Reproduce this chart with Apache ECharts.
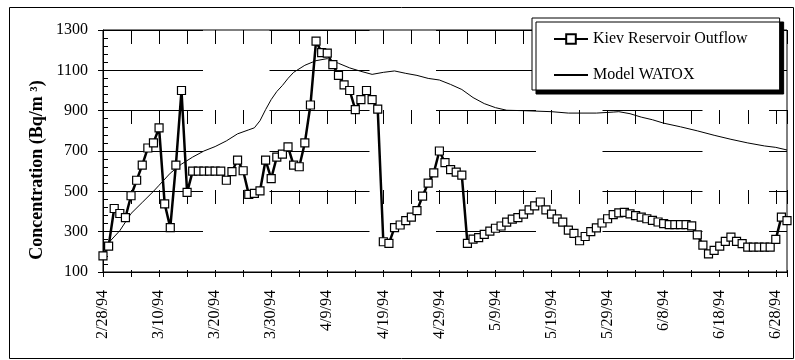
<!DOCTYPE html>
<html>
<head>
<meta charset="utf-8">
<script src="https://cdn.jsdelivr.net/npm/echarts@6/dist/echarts.min.js"></script>
<style>
html,body{margin:0;padding:0;background:#fff;}
#chart{width:795px;height:360px;}
</style>
</head>
<body>
<div id="chart"></div>
<script>
// Days counted from 2/28/94
var xTickLabels = ['2/28/94','3/10/94','3/20/94','3/30/94','4/9/94','4/19/94','4/29/94','5/9/94','5/19/94','5/29/94','6/8/94','6/18/94','6/28/94'];
var yTicks = [100, 300, 500, 700, 900, 1100, 1300];

// Kiev Reservoir Outflow, one value per day starting 2/28/94
var outflow = [
  180,228,415,390,370,478,555,630,715,740,
  815,438,320,630,1000,495,600,600,600,600,
  600,600,555,598,655,602,485,490,502,655,
  563,670,685,720,630,622,740,928,1245,1188,
  1185,1128,1075,1028,1000,905,955,1000,955,908,
  250,242,320,333,355,372,404,476,541,592,
  700,642,608,595,580,242,263,270,287,303,
  317,328,347,362,370,387,408,428,447,408,
  387,363,347,308,292,255,276,300,319,343,
  364,385,393,396,388,380,372,364,356,348,
  340,335,335,335,335,329,284,233,190,207,
  228,252,273,252,241,223,223,223,223,223,
  262,372,355
];

// Model WATOX: day offsets and values
var modelDays = [1,3,5,7,9,10,12,14,16,18,20,22,24,26,27,28,29,30,31,32,33,34,36,38,40,42,44,46,48,50,52,54,56,58,60,62,64,66,68,70,72,75,80,83,88,91,92,94,96,98,100,103,106,109,112,115,118,120,122];
var modelVals = [245,305,390,445,500,530,590,635,670,700,722,750,785,805,815,850,905,955,995,1025,1060,1090,1125,1148,1158,1135,1112,1095,1080,1090,1097,1085,1075,1060,1052,1030,1005,965,935,915,902,900,895,888,888,893,895,885,868,855,838,820,800,778,758,740,725,718,705];

var outflowData = outflow.map(function (v, i) { return [i, v]; });
var modelData = modelDays.map(function (d, i) { return [d, modelVals[i]]; });

var font = 'Liberation Serif, Times New Roman, serif';
var chart = echarts.init(document.getElementById('chart'), null, {renderer: 'canvas'});
chart.setOption({
  animation: false,
  backgroundColor: '#fff',
  grid: {left: 103, right: 8, top: 30, bottom: 88, show: true, borderColor: '#000', borderWidth: 1, backgroundColor: 'transparent'},
  graphic: [
    {type: 'rect', shape: {x: 9.5, y: 7.5, width: 784, height: 351}, style: {fill: 'none', stroke: '#000', lineWidth: 1}, silent: true},
    {type: 'text', x: 37, y: 170, rotation: Math.PI / 2,
     style: {text: 'Concentration (Bq/m ³)', font: 'bold 18px ' + font, fill: '#000', align: 'center', verticalAlign: 'middle'}}
  ],
  legend: {
    orient: 'vertical', left: 532, top: 18,
    padding: [13, 32, 7, 21],
    itemWidth: 34, itemHeight: 12, itemGap: 20,
    backgroundColor: '#fff', borderColor: '#000', borderWidth: 1,
    shadowColor: '#000', shadowBlur: 0, shadowOffsetX: 4, shadowOffsetY: 4,
    textStyle: {fontFamily: font, fontSize: 16, color: '#000', lineHeight: 16},
    data: [
      {name: 'Kiev Reservoir Outflow'},
      {name: 'Model WATOX', itemStyle: {opacity: 0, borderWidth: 0}}
    ]
  },
  xAxis: {
    type: 'value', min: 0, max: 122, interval: 5,
    axisLine: {lineStyle: {color: '#000', width: 1}},
    axisTick: {show: true, length: 5, lineStyle: {color: '#000'}},
    axisLabel: {
      rotate: 90, margin: 18, color: '#000', fontFamily: font, fontSize: 16,
      formatter: function (v) { return (v % 10 === 0 && v / 10 < xTickLabels.length) ? xTickLabels[v / 10] : ''; }
    },
    splitLine: {show: true, lineStyle: {color: '#000', width: 1, type: [14, 66]}}
  },
  yAxis: [
    {
      type: 'value', min: yTicks[0], max: yTicks[yTicks.length - 1], interval: 200,
      axisLine: {show: true, lineStyle: {color: '#000', width: 1}},
      axisTick: {show: true, length: 5, lineStyle: {color: '#000'}},
      axisLabel: {color: '#000', fontFamily: font, fontSize: 16, margin: 15,
        formatter: function (v) { return String(v); }},
      splitLine: {show: true, lineStyle: {color: '#000', width: 1, type: [100, 66.5]}}
    },
    {
      type: 'value', min: yTicks[0], max: yTicks[yTicks.length - 1], interval: 200, position: 'left',
      axisLine: {show: false},
      axisTick: {show: false, inside: true},
      minorTick: {show: true, splitNumber: 5, length: 5, lineStyle: {color: '#000', width: 1}},
      axisLabel: {show: false},
      splitLine: {show: false}
    }
  ],
  series: [
    {
      name: 'Model WATOX', type: 'line', data: modelData, showSymbol: false,
      lineStyle: {color: '#000', width: 1}, itemStyle: {color: '#000'}, z: 2
    },
    {
      name: 'Kiev Reservoir Outflow', type: 'line', data: outflowData,
      symbol: 'rect', symbolSize: 8,
      lineStyle: {color: '#000', width: 2.5},
      itemStyle: {color: '#fff', borderColor: '#000', borderWidth: 1.2}, z: 3
    }
  ]
});
</script>
</body>
</html>
